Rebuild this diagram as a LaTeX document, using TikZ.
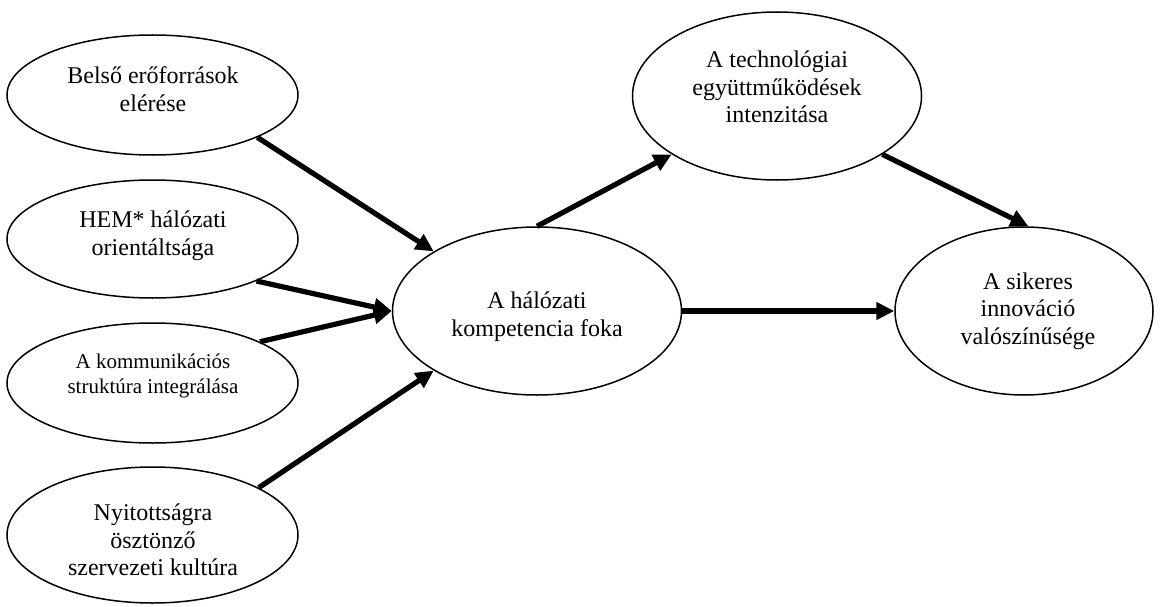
\documentclass[tikz,border=0pt]{standalone}
\usepackage{fontspec}
\setmainfont{Liberation Serif}
\usetikzlibrary{shapes.geometric,arrows.meta}
\begin{document}
\begin{tikzpicture}[x=1pt,y=-1pt,
  oval/.style={ellipse,draw=black,line width=1.5pt,inner sep=0pt,fill=white},
  txt/.style={align=center,inner sep=0pt,font=\fontsize{24}{27.6}\selectfont},
  smalltxt/.style={align=center,inner sep=0pt,font=\fontsize{21}{25}\selectfont},
  link/.style={line width=5.2pt,-{Triangle[length=18pt,width=17pt]}}]
\useasboundingbox (0,0) rectangle (1161,607);

% factors on the left
\node[oval,minimum width=291pt,minimum height=120pt] (e1) at (152.5,95) {};
\node[oval,minimum width=291pt,minimum height=118pt] (e2) at (152.5,239) {};
\node[oval,minimum width=291pt,minimum height=120pt] (e3) at (152.5,383) {};
\node[oval,minimum width=291pt,minimum height=136pt] (e4) at (152.5,535) {};
% central construct and outcomes
\node[oval,minimum width=289pt,minimum height=168pt] (e5) at (537,311) {};
\node[oval,minimum width=289pt,minimum height=168pt] (e6) at (777,96) {};
\node[oval,minimum width=258pt,minimum height=168pt] (e7) at (1024,311) {};

% labels
\node[txt] (t1) at (153,89) {Belső erőforrások\\elérése};
\node[txt] (t2) at (153,236) {HEM* hálózati\\orientáltsága};
\node[smalltxt] (t3) at (153,375.5) {A kommunikációs\\struktúra integrálása};
\node[txt] (t4) at (153,540) {Nyitottságra\\ösztönző\\szervezeti kultúra};
\node[txt] (t5) at (537,316.5) {A hálózati\\kompetencia foka};
\node[txt] (t6) at (777,87) {A technológiai\\együttműködések\\intenzitása};
\node[txt] (t7) at (1028,311) {A sikeres\\innováció\\valószínűsége};

% paths
\draw[link] (e1.-22.3) -- (e5.150.4);
\draw[link] (e2.-22.8) -- (e5.180);
\draw[link] (e3.21.8) -- (e5.180);
\draw[link] (e4.24.2) -- (e5.210.4);
\draw[link] (e5.90) -- (e6.209.6);
\draw[link] (e6.-29) -- (e7.87.3);
\draw[link] (e5.east) -- (e7.west);
\end{tikzpicture}
\end{document}
